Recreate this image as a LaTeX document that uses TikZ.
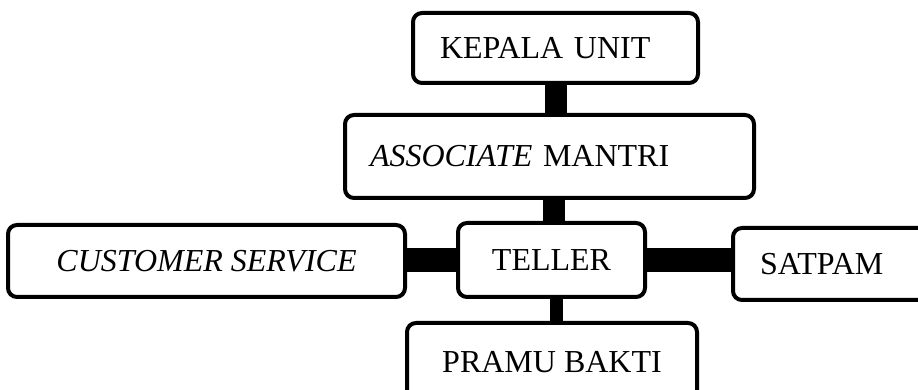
\documentclass[tikz,border=0pt]{standalone}
\usepackage{fontspec}
\setmainfont{Liberation Serif}

\tikzset{
	unitbox/.style={draw,line width=2pt,rounded corners=4.5pt,fill=white,
		inner ysep=0pt,minimum height=#1,
		font=\fontsize{16}{19}\selectfont},
	link/.style={line width=#1,draw=black}
}

\begin{document}
\begin{tikzpicture}[x=0.5pt,y=-0.5pt]
	\useasboundingbox (0,0) rectangle (918,390);
	\clip (0,0) rectangle (918,390);
  	\node[unitbox=35pt,align=left,inner xsep=13.5pt,text width=115.5pt] (kepala) at (555.5,48) {KEPALA UNIT};
  	\node[unitbox=41.5pt,align=left,inner xsep=12.5pt,text width=179.5pt] (assoc) at (549.5,156.5) {\textit{ASSOCIATE} MANTRI};
  	\node[unitbox=37pt,minimum width=93.5pt] (teller) at (551.5,260) {TELLER};
  	\node[unitbox=36pt,minimum width=198.5pt] (cs) at (206.5,261) {\textit{CUSTOMER SERVICE}};
  	\node[unitbox=36pt,align=left,inner xsep=13.5pt,text width=86.5pt] (satpam) at (846.5,264) {SATPAM};
  	\node[unitbox=39pt,minimum width=145pt] (pramu) at (552,362) {PRAMU BAKTI};
	\draw[link=11pt] (kepala.south) -- (kepala.south |- assoc.north);
	\draw[link=11pt] ([xshift=1.2pt]teller.north) -- ([xshift=1.2pt]teller.north |- assoc.south);
	\draw[link=12pt] (teller.west) -- (teller.west -| cs.east);
	\draw[link=12pt] (teller.east) -- (teller.east -| satpam.west);
	\draw[link=6.5pt] ([xshift=2.5pt]teller.south) -- ([xshift=2.5pt]teller.south |- pramu.north);
\end{tikzpicture}
\end{document}
